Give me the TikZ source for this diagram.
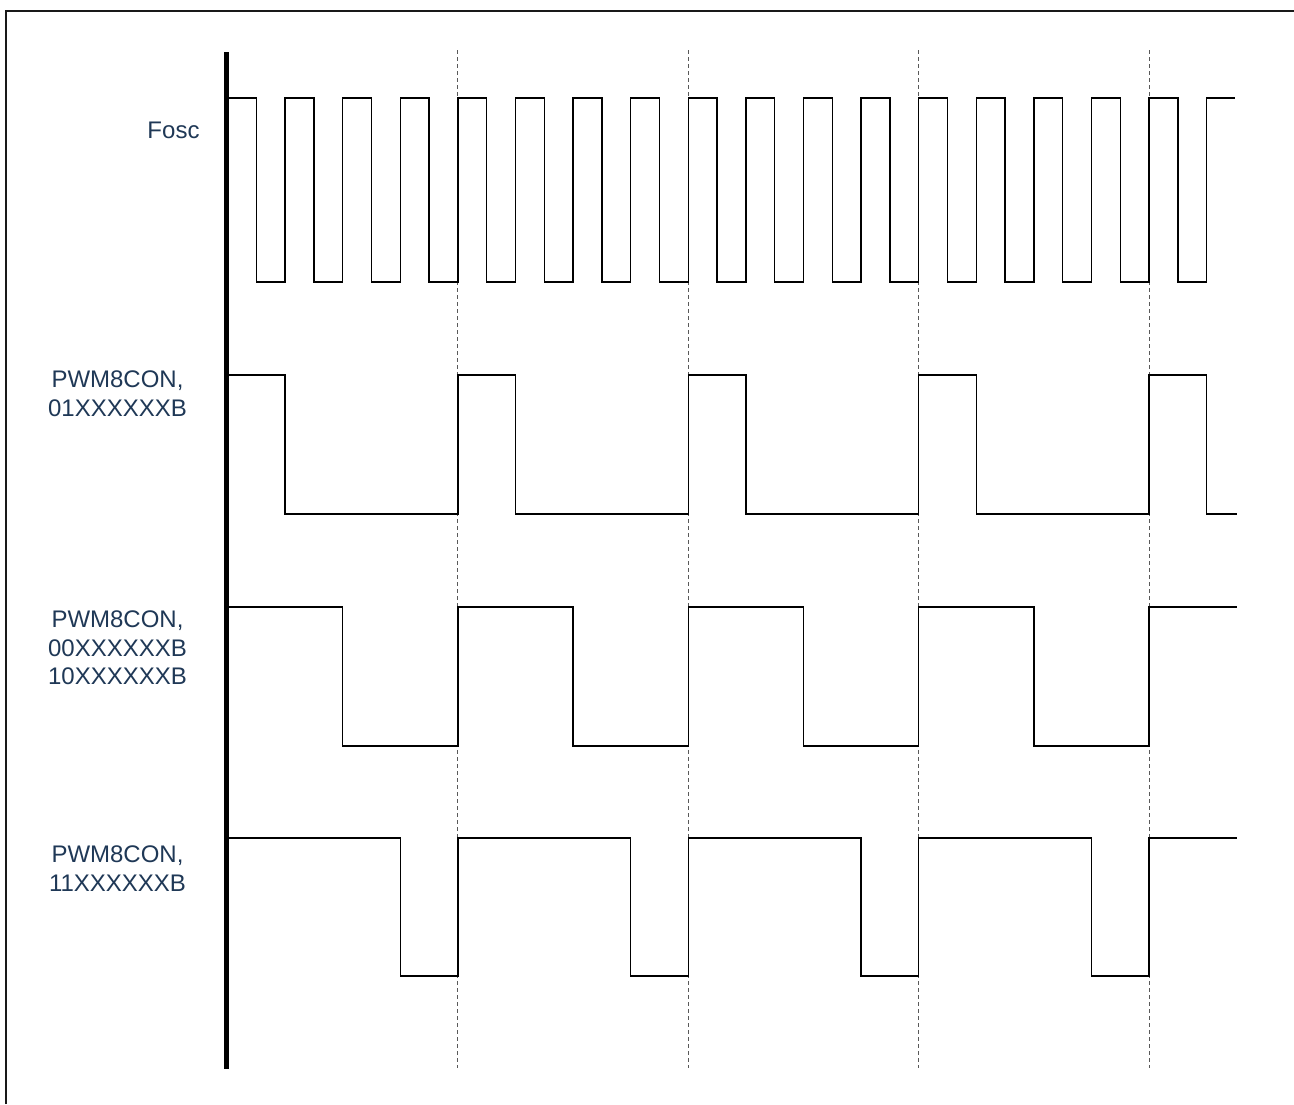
\documentclass[tikz,border=0pt]{standalone}
\usepackage{fontspec}
\setmainfont{Liberation Sans}
\usepackage{xcolor}
\usepackage{tikz}
\definecolor{lblblue}{RGB}{31,56,86}

\begin{document}
\begin{tikzpicture}[x=1pt, y=-1pt,
  sig/.style={draw=black, line width=1.5pt, line join=miter},
  grid/.style={draw=black!65, line width=0.9pt, dash pattern=on 4pt off 3pt},
  lbl/.style={inner sep=0pt, anchor=north, align=center, text=lblblue,
              font=\fontsize{24}{28.5}\selectfont}]
  \useasboundingbox (0,0) rectangle (1294,1104);
  % frame
  \draw[line width=2pt, black!90] (6,1104) -- (6,11) -- (1294,11);
  % labels
  \node[lbl] (lfosc) at (173.5,121.5) {Fosc};
  \node[lbl] (lpwm1) at (117.5,371) {PWM8CON,\\01XXXXXXB};
  \node[lbl] (lpwm2) at (117.5,611) {PWM8CON,\\00XXXXXXB\\10XXXXXXB};
  \node[lbl] (lpwm3) at (117.5,846) {PWM8CON,\\11XXXXXXB};
  % period markers
  \draw[grid] (457.9,50) -- (457.9,1068);
  \draw[grid] (688.3,50) -- (688.3,1068);
  \draw[grid] (918.7,50) -- (918.7,1068);
  \draw[grid] (1149.1,50) -- (1149.1,1068);
  % Fosc
  \draw[sig] (227.5,98) \foreach \k in {0,...,16} {
      -- ++(28.8,0) -- ++(0,184) -- ++(28.8,0) -- ++(0,-184)} -- ++(28.3,0);
  % PWM8CON 01XXXXXXB
  \draw[sig] (227.5,375) -- (285.1,375) -- (285.1,514) -- (457.9,514)
    -- (457.9,375) -- (515.5,375) -- (515.5,514) -- (688.3,514)
    -- (688.3,375) -- (745.9,375) -- (745.9,514) -- (918.7,514)
    -- (918.7,375) -- (976.3,375) -- (976.3,514) -- (1149.1,514)
    -- (1149.1,375) -- (1206.7,375) -- (1206.7,514) -- (1237,514);
  % PWM8CON 00XXXXXXB / 10XXXXXXB
  \draw[sig] (227.5,607) -- (342.7,607) -- (342.7,746) -- (457.9,746)
    -- (457.9,607) -- (573.1,607) -- (573.1,746) -- (688.3,746)
    -- (688.3,607) -- (803.5,607) -- (803.5,746) -- (918.7,746)
    -- (918.7,607) -- (1033.9,607) -- (1033.9,746) -- (1149.1,746)
    -- (1149.1,607) -- (1237,607);
  % PWM8CON 11XXXXXXB
  \draw[sig] (227.5,838) -- (400.3,838) -- (400.3,976) -- (457.9,976)
    -- (457.9,838) -- (630.7,838) -- (630.7,976) -- (688.3,976)
    -- (688.3,838) -- (861.1,838) -- (861.1,976) -- (918.7,976)
    -- (918.7,838) -- (1091.5,838) -- (1091.5,976) -- (1149.1,976)
    -- (1149.1,838) -- (1237,838);
  % time axis
  \draw[line width=5pt] (226.5,52) -- (226.5,1069);
\end{tikzpicture}
\end{document}
